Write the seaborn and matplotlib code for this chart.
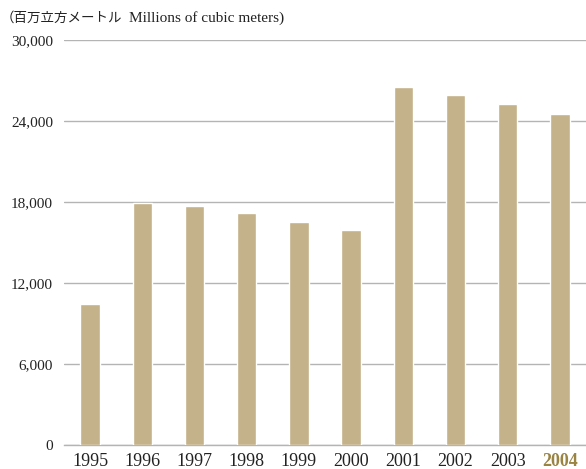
import matplotlib
matplotlib.use("Agg")
import matplotlib.pyplot as plt
import seaborn as sns
import pandas as pd
from matplotlib.ticker import FuncFormatter

years = ["1995", "1996", "1997", "1998", "1999", "2000", "2001", "2002", "2003", "2004"]
values = [10450, 17900, 17700, 17200, 16500, 15950, 26500, 25950, 25250, 24500]
yticks = [0, 6000, 12000, 18000, 24000, 30000]
unit_label_ja = "（百万立方メートル"
unit_label_en = "Millions of cubic meters)"

sns.set_theme(style="white")
plt.rcParams['font.family'] = ['Liberation Serif', 'Noto Sans CJK JP']

df = pd.DataFrame({"year": years, "value": values})

fig = plt.figure(figsize=(5.86, 4.69), dpi=100)
ax = fig.add_axes([64/586, 24/469, 522/586, 405/469])

sns.barplot(data=df, x="year", y="value", color="#C4B28A", saturation=1,
            width=0.37, ax=ax, zorder=3)

ax.set_ylim(0, 30000)
ax.set_xlim(-0.5, 9.5)
ax.set_yticks(yticks)
ax.yaxis.set_major_formatter(FuncFormatter(lambda v, p: f"{int(v):,}"))
ax.grid(axis="y", color="#b4b4b4", linewidth=1.0, zorder=0)
ax.set_axisbelow(True)
for s in ["top", "right", "left"]:
    ax.spines[s].set_visible(False)
ax.spines["bottom"].set_color("#b4b4b4")
ax.spines["bottom"].set_linewidth(1.0)
ax.set_xlabel("")
ax.set_ylabel("")
ax.tick_params(axis="y", length=0, pad=8, labelsize=11, labelcolor="#222222")
ax.tick_params(axis="x", length=0, pad=6, labelsize=13, labelcolor="#222222")
for lab in ax.get_xticklabels():
    if lab.get_text() == "2004":
        lab.set_color("#9A8444")
        lab.set_fontweight("bold")

fig.text(1/586, 1 - 18/469, unit_label_ja, fontsize=9.7, color="#222222",
         va="center", ha="left", family=["Noto Sans CJK JP"])
fig.text(129/586, 1 - 18/469, unit_label_en, fontsize=11, color="#222222",
         va="center", ha="left", family=["Liberation Serif"])

fig.savefig("out.png", dpi=100)
